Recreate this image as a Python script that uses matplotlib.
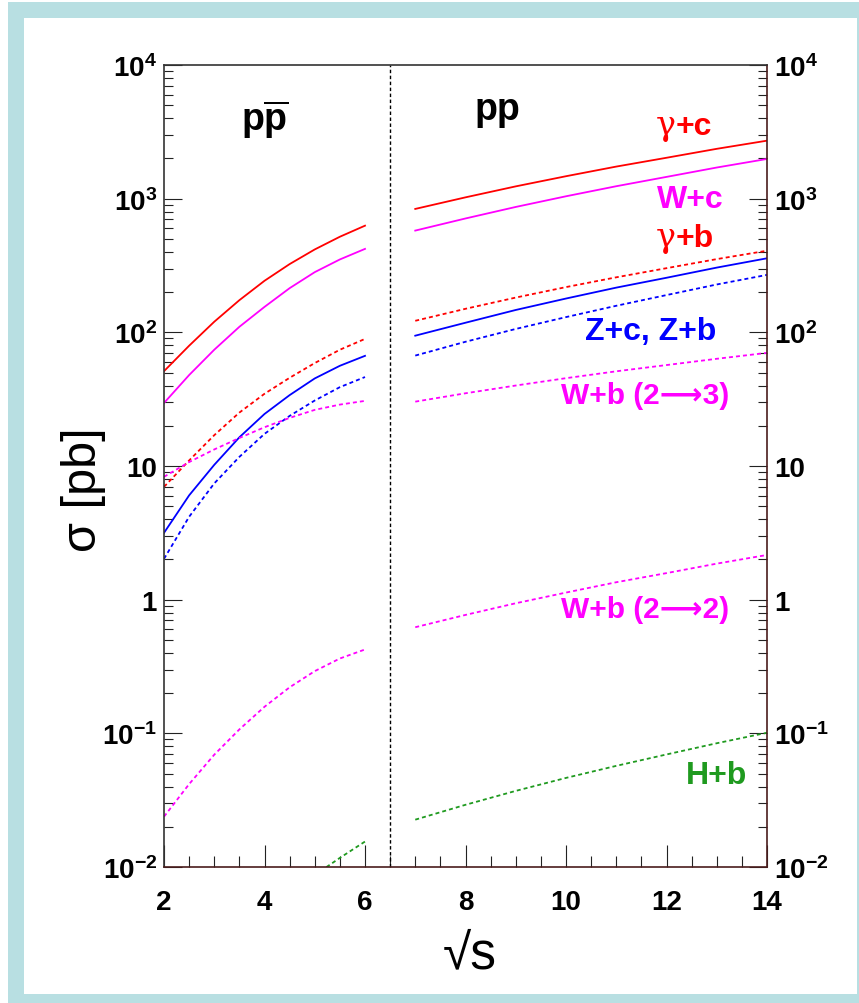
import numpy as np
import matplotlib
matplotlib.use('Agg')
import matplotlib.pyplot as plt
from matplotlib.ticker import FixedLocator, FixedFormatter, MultipleLocator, LogLocator, NullFormatter
from matplotlib.patches import Rectangle

# ---------------- data (cross sections in pb) ----------------
sqrt_s_tev = [2.0, 2.5, 3.0, 3.5, 4.0, 4.5, 5.0, 5.5, 6.0]
gamma_c_tev = [51.2, 79.4, 120, 174, 243, 324, 417, 519, 628]
w_c_tev = [29.6, 47.9, 74.1, 110, 155, 214, 282, 351, 421]
gamma_b_tev = [6.98, 11.0, 17.0, 25.1, 34.7, 45.7, 58.9, 74.1, 89.3]
z_c_tev = [3.16, 6.03, 10.2, 16.4, 24.5, 33.9, 45.2, 56.2, 66.7]
z_b_tev = [2.02, 4.17, 7.41, 11.7, 17.4, 23.7, 30.9, 38.9, 46.3]
w_b23_tev = [8.30, 10.7, 13.3, 16.2, 19.5, 22.9, 26.3, 28.8, 30.7]
w_b22_tev = [0.0238, 0.0417, 0.0692, 0.107, 0.158, 0.221, 0.292, 0.363, 0.424]
sqrt_s_hb_tev = [5.0, 5.5, 6.0]
h_b_tev = [0.0087, 0.0117, 0.0155]

sqrt_s_lhc = [7, 8, 9, 10, 11, 12, 13, 14]
gamma_c_lhc = [838, 1023, 1236, 1472, 1738, 2023, 2360, 2716]
w_c_lhc = [577, 711, 867, 1042, 1239, 1455, 1710, 1982]
gamma_b_lhc = [122, 150, 182, 218, 258, 302, 353, 408]
z_c_lhc = [94.4, 118, 147, 179, 216, 256, 305, 358]
z_b_lhc = [67, 85, 106, 130, 158, 190, 228, 269]
w_b23_lhc = [30.3, 35.0, 40.0, 45.4, 51.1, 56.9, 63.4, 70.2]
w_b22_lhc = [0.622, 0.769, 0.940, 1.13, 1.35, 1.58, 1.86, 2.16]
h_b_lhc = [0.0226, 0.0292, 0.0371, 0.0464, 0.0571, 0.0695, 0.0843, 0.101]

separator_x = 6.5
y_ticks = [1e-2, 1e-1, 1, 10, 1e2, 1e3, 1e4]
y_tick_labels = [r'$10^{-2}$', r'$10^{-1}$', '1', '10', r'$10^{2}$', r'$10^{3}$', r'$10^{4}$']
x_ticks = [2, 4, 6, 8, 10, 12, 14]

# ---------------- style ----------------
plt.rcParams['font.family'] = ['Liberation Sans', 'DejaVu Sans']
plt.rcParams['mathtext.fontset'] = 'custom'
plt.rcParams['mathtext.rm'] = 'Liberation Sans:bold'
plt.rcParams['mathtext.bf'] = 'Liberation Sans:bold'
plt.rcParams['mathtext.it'] = 'Liberation Sans:bold'

RED = '#ff0000'
MAG = '#ff00ff'
BLUE = '#0000ff'
GREEN = '#1f9a1f'
BORDER = '#b8dfe2'

W, H = 859, 1004
fig = plt.figure(figsize=(W / 100, H / 100), dpi=100)
fig.patch.set_facecolor('white')
fig.patches.append(Rectangle((8 / W, 0), 1, 1 - 3 / H, transform=fig.transFigure,
                             facecolor=BORDER, edgecolor='none', zorder=-10))
fig.patches.append(Rectangle((24 / W, (H - 995) / H), (857 - 24) / W, (995 - 19) / H,
                             transform=fig.transFigure, facecolor='white',
                             edgecolor='none', zorder=-9))

ax = fig.add_axes([164 / W, (H - 868) / H, (767 - 164) / W, (868 - 66) / H])
ax.set_facecolor('white')
ax.set_yscale('log')
ax.set_xlim(2, 14)
ax.set_ylim(1e-2, 1e4)

lw = 1.3
dash = (0, (2.2, 1.7))
# Tevatron
ax.plot(sqrt_s_tev, gamma_c_tev, color=RED, lw=lw)
ax.plot(sqrt_s_tev, w_c_tev, color=MAG, lw=lw)
ax.plot(sqrt_s_tev, gamma_b_tev, color=RED, lw=lw, ls=dash)
ax.plot(sqrt_s_tev, z_c_tev, color=BLUE, lw=lw)
ax.plot(sqrt_s_tev, z_b_tev, color=BLUE, lw=lw, ls=dash)
ax.plot(sqrt_s_tev, w_b23_tev, color=MAG, lw=lw, ls=dash)
ax.plot(sqrt_s_tev, w_b22_tev, color=MAG, lw=lw, ls=dash)
ax.plot(sqrt_s_hb_tev, h_b_tev, color=GREEN, lw=lw, ls=dash)
# LHC
ax.plot(sqrt_s_lhc, gamma_c_lhc, color=RED, lw=lw)
ax.plot(sqrt_s_lhc, w_c_lhc, color=MAG, lw=lw)
ax.plot(sqrt_s_lhc, gamma_b_lhc, color=RED, lw=lw, ls=dash)
ax.plot(sqrt_s_lhc, z_c_lhc, color=BLUE, lw=lw)
ax.plot(sqrt_s_lhc, z_b_lhc, color=BLUE, lw=lw, ls=dash)
ax.plot(sqrt_s_lhc, w_b23_lhc, color=MAG, lw=lw, ls=dash)
ax.plot(sqrt_s_lhc, w_b22_lhc, color=MAG, lw=lw, ls=dash)
ax.plot(sqrt_s_lhc, h_b_lhc, color=GREEN, lw=lw, ls=dash)

ax.axvline(separator_x, color='black', lw=1.0, ls=(0, (2.5, 1.8)))

# axes / ticks
for s in ax.spines.values():
    s.set_linewidth(1.2)
    s.set_color('#333333')
ax.spines['right'].set_color('#4a1c1c')
ax.spines['bottom'].set_color('#4a1c1c')

ax.yaxis.set_major_locator(FixedLocator(y_ticks))
ax.yaxis.set_major_formatter(FixedFormatter(y_tick_labels))
ax.yaxis.set_minor_locator(LogLocator(base=10, subs=np.arange(2, 10), numticks=20))
ax.yaxis.set_minor_formatter(NullFormatter())
ax.xaxis.set_major_locator(FixedLocator(x_ticks))
ax.xaxis.set_minor_locator(MultipleLocator(0.5))

ax.tick_params(axis='y', which='both', direction='in', left=True, right=True,
               labelleft=True, labelright=True, width=0.8, color='#222222')
ax.tick_params(axis='y', which='major', length=13, labelsize=20, pad=5)
ax.tick_params(axis='y', which='minor', length=6.5)
ax.tick_params(axis='x', which='both', direction='in', bottom=True, top=False,
               width=0.8, color='#222222')
ax.tick_params(axis='x', which='major', length=16, labelsize=20, pad=16)
ax.tick_params(axis='x', which='minor', length=8)
for t in ax.yaxis.get_major_ticks() + ax.xaxis.get_major_ticks():
    t.label1.set_fontweight('bold')
    t.label2.set_fontweight('bold')


def ftxt(px, py, s, **kw):
    fig.text(px / W, 1 - py / H, s, **kw)


lab_kw = dict(fontsize=23, fontweight='bold', va='baseline')
gam_kw = dict(fontsize=24, family=['DejaVu Serif'], fontweight='normal', va='baseline', ha='right')
ftxt(676, 135, 'γ', color=RED, **gam_kw)
ftxt(676, 135, '+c', color=RED, ha='left', **lab_kw)
ftxt(690, 208, 'W+c', color=MAG, ha='center', **lab_kw)
ftxt(676, 247, 'γ', color=RED, **gam_kw)
ftxt(676, 247, '+b', color=RED, ha='left', **lab_kw)
ftxt(651, 340, 'Z+c, Z+b', color=BLUE, ha='center', **lab_kw)
ftxt(645, 404, 'W+b (2⟶3)', color=MAG, ha='center', fontsize=21.5, fontweight='bold', va='baseline')
ftxt(645, 618, 'W+b (2⟶2)', color=MAG, ha='center', fontsize=21.5, fontweight='bold', va='baseline')
ftxt(717, 784, 'H+b', color=GREEN, ha='center', **lab_kw)

ftxt(265, 131, r'$\mathbf{p}\overline{\mathbf{p}}$', fontsize=27, ha='center', va='baseline', color='black')
ftxt(497, 120, 'pp', fontsize=27, fontweight='bold', ha='center', va='baseline', color='black')

ftxt(83, 490, 'σ [pb]', fontsize=35, rotation=90, ha='center', va='center', color='black')
ftxt(470, 955, '√s', fontsize=37, ha='center', va='center', color='black')

fig.savefig('out.png', dpi=100, facecolor='white')
